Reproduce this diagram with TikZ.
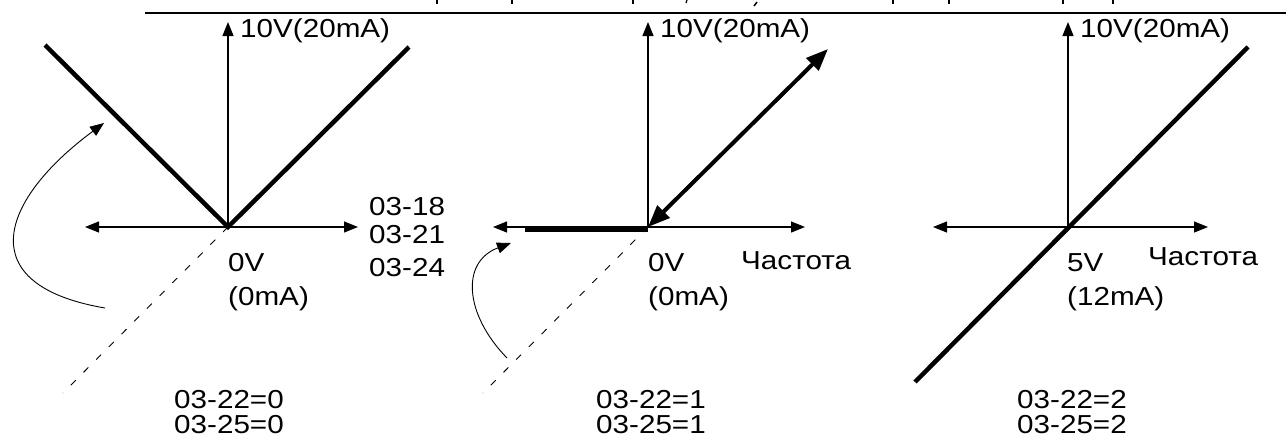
\documentclass[tikz,border=0pt]{standalone}
\usepackage{fontspec}
\setmainfont{Liberation Sans}[FakeStretch=1.14]
\usetikzlibrary{arrows.meta}
\begin{document}
\begin{tikzpicture}[x=1pt,y=-1pt,
  lbl/.style={anchor=base west,inner sep=0pt,font=\fontsize{26}{30}\selectfont},
  axis/.style={line width=1.2pt,{Triangle[length=14pt,width=11pt]}-{Triangle[length=14pt,width=11pt]}},
  yaxis/.style={line width=1.2pt,-{Triangle[length=14pt,width=11pt]}},
  curveln/.style={line width=4.5pt},
  bendarrow/.style={line width=0.9pt,-{Triangle[length=14pt,width=11pt]}},
  dashln/.style={line width=0.9pt,dash pattern=on 7pt off 11pt},
  tickln/.style={line width=2pt}]
\useasboundingbox (0,0) rectangle (1286,437);
% top rule and clipped descenders
\coordinate (tl) at (145,13); \coordinate (tr) at (1286,13);
\draw[line width=2pt] (tl) -- (tr);
\foreach \x in {437,512,633,893,949,1063,1113}{\draw[tickln] (\x,0) -- (\x,4);}
\draw[line width=1.2pt] (687,0) -- (686,3);
\draw[line width=1.5pt] (757,2) -- (754,6);

% ---------- panel 1 ----------
\coordinate (o1) at (228,227);
\coordinate (l1) at (85,227); \coordinate (r1) at (358,227); \coordinate (t1) at (228,22);
\draw[axis] (l1) -- (r1);
\draw[yaxis] (o1) -- (t1);
\coordinate (a1) at (45,45); \coordinate (b1) at (409,47);
\draw[curveln] (a1) -- (o1) -- (b1);
\coordinate (d1) at (63,393);
\draw[dashln] (o1) -- (d1);
\coordinate (s1) at (105,308); \coordinate (e1) at (104,123);
\draw[bendarrow] (s1) .. controls (-30,285) and (0,200) .. (e1);
\node[lbl] (v1) at (240,37) {10V(20mA)};
\node[lbl] (z1) at (228,271) {0V};
\node[lbl] (m1) at (228,305) {(0mA)};
\node[lbl] (p18) at (369,215) {03-18};
\node[lbl] (p21) at (369,243) {03-21};
\node[lbl] (p24) at (369,276) {03-24};
\node[lbl] (q1) at (174,408) {03-22=0};
\node[lbl] (w1) at (174,433) {03-25=0};

% ---------- panel 2 ----------
\coordinate (o2) at (648,227);
\coordinate (l2) at (493,227); \coordinate (r2) at (805,227); \coordinate (t2) at (648,22);
\draw[axis] (l2) -- (r2);
\draw[yaxis] (o2) -- (t2);
\coordinate (f2) at (525,229.5); \coordinate (o2b) at (648,229.5);
\draw[line width=4pt] (f2) -- (o2b);
\coordinate (b2) at (828,49);
\draw[line width=4pt,{Triangle[length=22pt,width=17pt]}-{Triangle[length=22pt,width=17pt]}] (o2) -- (b2);
\coordinate (d2) at (483,393);
\draw[dashln] (o2) -- (d2);
\coordinate (s2) at (507,358); \coordinate (e2) at (511,243);
\draw[bendarrow] (s2) .. controls (465,315) and (460,262) .. (e2);
\node[lbl] (v2) at (660,37) {10V(20mA)};
\node[lbl] (z2) at (648,271) {0V};
\node[lbl] (m2) at (648,305) {(0mA)};
\node[lbl] (c2) at (741,269) {Частота};
\node[lbl] (q2) at (596,408) {03-22=1};
\node[lbl] (w2) at (596,433) {03-25=1};

% ---------- panel 3 ----------
\coordinate (o3) at (1068,227);
\coordinate (l3) at (933,227); \coordinate (r3) at (1208,227); \coordinate (t3) at (1068,22);
\draw[axis] (l3) -- (r3);
\draw[yaxis] (o3) -- (t3);
\coordinate (a3) at (915,382); \coordinate (b3) at (1248,47);
\draw[curveln] (a3) -- (b3);
\node[lbl] (v3) at (1080,37) {10V(20mA)};
\node[lbl] (z3) at (1067,271) {5V};
\node[lbl] (m3) at (1067,305) {(12mA)};
\node[lbl] (c3) at (1148,265) {Частота};
\node[lbl] (q3) at (1017,408) {03-22=2};
\node[lbl] (w3) at (1017,433) {03-25=2};
\end{tikzpicture}
\end{document}
